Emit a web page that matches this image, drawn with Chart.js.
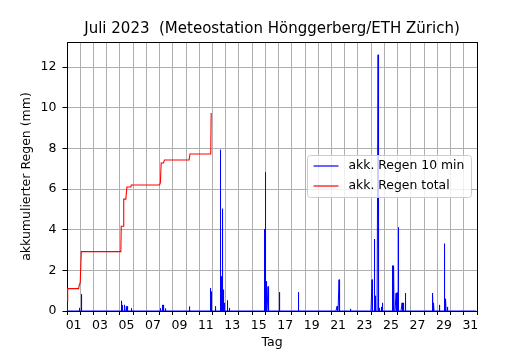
<!DOCTYPE html>
<html><head><meta charset="utf-8">
<script src="https://cdn.jsdelivr.net/npm/chart.js@4/dist/chart.umd.min.js"></script>
<style>html,body{margin:0;padding:0;background:#fff}#wrap{width:530px;height:350px;position:relative}canvas{display:block}</style>
</head><body><div id="wrap"><canvas id="c" width="530" height="350" style="width:530px;height:350px"></canvas></div>
<script>
// ---- data (days since 1 July 2023 00:00) ----
const titleText = 'Juli 2023  (Meteostation Hönggerberg/ETH Zürich)';
const xAxisLabel = 'Tag';
const yAxisLabel = 'akkumulierter Regen (mm)';
const seriesNames = ['akk. Regen 10 min', 'akk. Regen total'];
const dayTickLabels = ['01','03','05','07','09','11','13','15','17','19','21','23','25','27','29','31'];
const yTickValues = [0, 2, 4, 6, 8, 10, 12];

// 10-minute rain amounts (mm), only the non-zero intervals
const rainDays = [0.03,0.93,1.08,4.15,4.22,4.38,4.5,4.57,4.85,7.09,7.2,7.27,7.44,9.25,10.84,10.89,11.22,
  11.6,11.67,11.77,11.85,11.9,12.15,12.27,14.92,15.0,15.09,15.2,16.05,17.51,20.42,20.57,21.43,
  23.06,23.24,23.3,23.52,23.6,23.78,23.85,24.6,24.63,24.66,24.69,24.72,24.88,24.95,25.06,25.33,25.46,25.58,
  27.67,27.74,28.17,28.53,28.57,28.65,28.75];
const rainMm = [0.5,0.15,0.82,0.5,0.28,0.3,0.23,0.23,0.13,0.13,0.3,0.3,0.12,0.22,1.13,0.95,0.23,
  7.93,1.7,5.03,1.05,0.4,0.52,0.15,4.03,6.82,1.46,1.2,0.92,0.92,0.23,1.54,0.1,
  1.54,3.54,0.75,12.6,0.15,0.2,0.4,2.23,2.2,2.2,2.2,2.23,0.88,0.9,4.11,0.4,0.4,0.88,
  0.88,0.4,0.3,3.31,2.7,0.6,0.2];

// accumulated total (mm)
const totalDays = [0.0,0.05,0.88,0.92,1.0,1.08,4.07,4.10,4.25,4.29,4.45,4.53,4.83,4.86,6.99,7.06,7.12,7.29,7.37,9.23,9.30,10.87,10.90];
const totalMm   = [0.5,1.1,1.1,1.25,1.4,2.92,2.92,4.17,4.17,5.5,5.5,6.1,6.1,6.2,6.2,6.3,7.28,7.28,7.43,7.43,7.72,7.72,9.74];

const monthDays = 31;
const yMax = 13.23;

// ---- build 10-min series for the library ----
const perDay = 144;
const tenMin = new Array(monthDays * perDay).fill(0);
rainDays.forEach((d, i) => { const k = Math.round(d * perDay); tenMin[k] = Math.max(tenMin[k], rainMm[i]); });
const blueData = tenMin.map((v, i) => ({x: i / perDay, y: v}));
const redData = totalDays.map((d, i) => ({x: d, y: totalMm[i]}));

Chart.defaults.font.family = "'DejaVu Sans', sans-serif";
Chart.defaults.color = '#000';

const framePlugin = {
  id: 'frame',
  beforeDatasetsDraw(chart) {
    const {ctx, chartArea: a} = chart;
    ctx.save();
    ctx.strokeStyle = '#000'; ctx.lineWidth = 1;
    ctx.strokeRect(a.left + 0.5, a.top + 0.5, a.right - a.left, a.bottom - a.top);
    ctx.restore();
  }
};

const legendPlugin = {
  id: 'mplLegend',
  afterDatasetsDraw(chart) {
    const {ctx, chartArea: a} = chart;
    const w = 164, h = 42;
    const x = a.right - 5.5 - w, y = a.top + 113.5;
    ctx.save();
    ctx.beginPath();
    ctx.roundRect(x, y, w, h, 3);
    ctx.fillStyle = 'rgba(255,255,255,0.8)';
    ctx.fill();
    ctx.strokeStyle = '#cccccc'; ctx.lineWidth = 1;
    ctx.stroke();
    ctx.font = "12.4px 'DejaVu Sans'";
    ctx.textBaseline = 'middle';
    ctx.textAlign = 'left';
    chart.data.datasets.forEach((ds, i) => {
      const ly = y + 10.5 + i * 20;
      ctx.beginPath();
      ctx.moveTo(x + 6, ly); ctx.lineTo(x + 31, ly);
      ctx.strokeStyle = ds.borderColor; ctx.lineWidth = 1.2;
      ctx.stroke();
      ctx.fillStyle = '#000';
      ctx.fillText(ds.label, x + 41, ly);
    });
    ctx.restore();
  }
};

new Chart(document.getElementById('c'), {
  type: 'line',
  data: {
    datasets: [
      {label: seriesNames[0], data: blueData, borderColor: '#0000ff', borderWidth: 1, pointRadius: 0, tension: 0, fill: false},
      {label: seriesNames[1], data: redData, borderColor: '#ff0000', borderWidth: 1.1, pointRadius: 0, tension: 0, fill: false}
    ]
  },
  options: {
    responsive: false,
    animation: false,
    devicePixelRatio: 1,
    layout: {padding: {left: 0, right: 53, top: 0, bottom: 0}},
    plugins: {
      legend: {display: false},
      tooltip: {enabled: false},
      title: {display: true, text: titleText, fullSize: false, font: {size: 15, weight: 'normal'},
              padding: {top: 20.5, bottom: 3.5}, color: '#000'}
    },
    scales: {
      x: {
        type: 'linear', min: 0, max: monthDays,
        grid: {color: '#b0b0b0', lineWidth: 1, tickColor: '#000', tickLength: 4},
        border: {display: true, color: '#000'},
        ticks: {stepSize: 1, autoSkip: false, maxRotation: 0, labelOffset: 6.6, padding: 3.5, font: {size: 12.5},
                callback: (v) => (Number.isInteger(v) && v % 2 === 0 && v / 2 < dayTickLabels.length) ? dayTickLabels[v / 2] : ''},
        title: {display: true, text: xAxisLabel, font: {size: 12.5}, padding: {top: 0, bottom: 0}},
        afterFit: (s) => { s.height = 39; }
      },
      y: {
        type: 'linear', min: 0, max: yMax,
        afterBuildTicks: (s) => { s.ticks = yTickValues.map(v => ({value: v})); },
        grid: {color: '#b0b0b0', lineWidth: 1, tickColor: '#000', tickLength: 4.5},
        border: {display: true, color: '#000'},
        ticks: {padding: 6, font: {size: 12.5}},
        title: {display: true, text: yAxisLabel, font: {size: 12.5}, padding: {top: 19.5, bottom: 0}},
        afterFit: (s) => { s.width = 67; }
      }
    }
  },
  plugins: [framePlugin, legendPlugin]
});
</script>
</body></html>
